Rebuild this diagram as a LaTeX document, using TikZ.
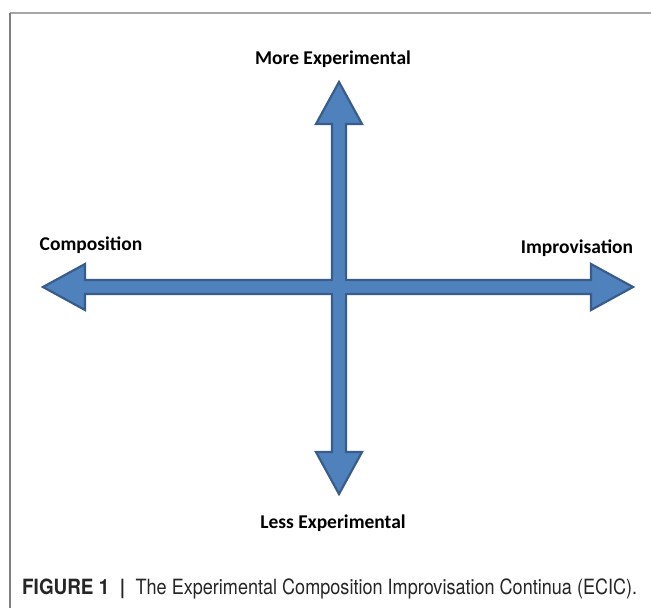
\documentclass[tikz,border=0pt]{standalone}
\usepackage{fontspec}
\setmainfont{Carlito}
\newfontfamily\capfont[FakeStretch=0.86]{TeX Gyre Heros}
\newfontfamily\capbold[FakeStretch=0.90]{TeX Gyre Heros}
\definecolor{arrowfill}{HTML}{4F81BD}
\definecolor{arrowline}{HTML}{385D8A}
\definecolor{frametop}{HTML}{A6A6A6}
\definecolor{frameleft}{HTML}{7F7F7F}
\definecolor{captext}{HTML}{262626}
\begin{document}
\begin{tikzpicture}[x=1pt,y=-1pt,
  axisarrow/.style={fill=arrowfill,draw=arrowline,line width=2.2pt,line join=miter},
  axislabel/.style={font=\bfseries\fontsize{19.5}{23}\selectfont,inner sep=0pt},
  framerule/.style={line width=1.4pt}]
\useasboundingbox[fill=white] (0,0) rectangle (651,608);
% frame
\coordinate (ftl) at (10,13);
\coordinate (ftr) at (651,13);
\coordinate (fbl) at (10,608);
\draw[framerule,draw=frametop] (ftr) -- (ftl);
\draw[framerule,draw=frameleft,line width=1.2pt] (ftl) -- (fbl);
% axes geometry
\coordinate (c) at (339,287);
\def\sw{7}\def\hw{23}\def\hl{42}
% vertical arrow
\draw[axisarrow] (339,82) -- (339+\hw,82+\hl) -- (339+\sw,82+\hl) -- (339+\sw,494-\hl)
  -- (339+\hw,494-\hl) -- (339,494) -- (339-\hw,494-\hl) -- (339-\sw,494-\hl)
  -- (339-\sw,82+\hl) -- (339-\hw,82+\hl) -- cycle;
% horizontal arrow
\draw[axisarrow] (43,287) -- (43+\hl,287-\hw) -- (43+\hl,287-\sw) -- (633-\hl,287-\sw)
  -- (633-\hl,287-\hw) -- (633,287) -- (633-\hl,287+\hw) -- (633-\hl,287+\sw)
  -- (43+\hl,287+\sw) -- (43+\hl,287+\hw) -- cycle;
% crossing
\fill[arrowfill] (339-\sw+1.1,287-\sw-4) rectangle (339+\sw-1.1,287+\sw+4);
\fill[arrowfill] (339-\sw-4,287-\sw+1.1) rectangle (339+\sw+4,287+\sw-1.1);
% labels
\node[axislabel] (more) at (333,59) {More Experimental};
\node[axislabel] (less) at (333,523) {Less Experimental};
\node[axislabel] (comp) at (91,245) {Composition};
\node[axislabel] (impr) at (577,248) {Improvisation};
\node[anchor=west,inner sep=0pt,text=captext,font=\capfont\fontsize{21}{24}\selectfont] (cap) at (22,589)
  {{\capbold\bfseries FIGURE 1}\hspace{0.5em}{\capbold\bfseries|}\hspace{0.5em}The Experimental Composition Improvisation Continua (ECIC).};
\end{tikzpicture}
\end{document}
